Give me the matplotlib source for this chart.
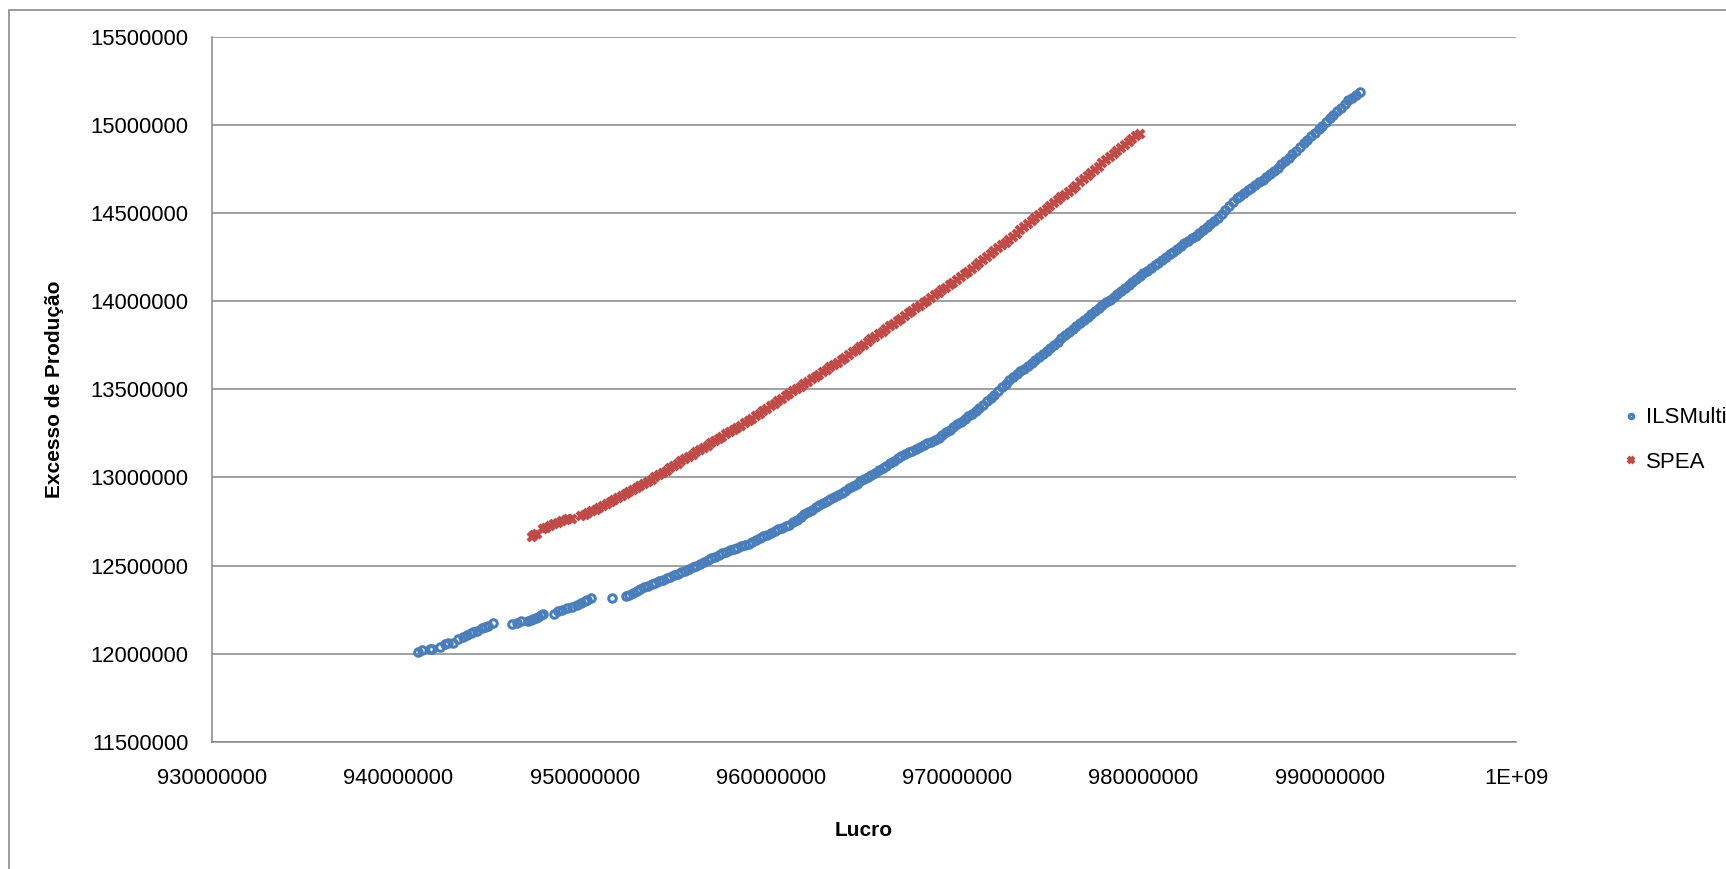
import matplotlib
matplotlib.use("Agg")
import matplotlib.pyplot as plt
from matplotlib.patches import Rectangle

# ---------------- data (x in millions, y in millions) ----------------
ils_x = [941.08, 941.26, 941.70, 941.83, 942.24, 942.51, 942.69, 942.96, 943.23, 943.45,
         943.67, 943.90, 944.00, 944.21, 944.48, 944.65, 944.83, 945.07, 946.09, 946.36,
         946.57, 946.95, 947.10, 947.24, 947.38, 947.51, 947.65, 947.78, 948.36, 948.59,
         948.80, 949.04, 949.30, 949.58, 949.80, 950.02, 950.15, 950.33, 951.45,
         952.2, 952.4, 952.6, 952.8,
         953.0, 953.2, 953.4, 953.6, 953.8, 954.0, 954.2, 954.4, 954.6, 954.8,
         955.0, 955.2, 955.4, 955.6, 955.8, 956.0, 956.2, 956.4, 956.6, 956.8,
         957.0, 957.2, 957.4, 957.6, 957.8, 958.0, 958.2, 958.4, 958.6, 958.8,
         959.0, 959.2, 959.4, 959.6, 959.8, 960.0, 960.2, 960.4, 960.6, 960.8,
         961.0, 961.2, 961.4, 961.6, 961.8, 962.0, 962.2, 962.4, 962.6, 962.8,
         963.0, 963.2, 963.4, 963.6, 963.8, 964.0, 964.2, 964.4, 964.6, 964.8,
         965.0, 965.2, 965.4, 965.6, 965.8, 966.0, 966.2, 966.4, 966.6, 966.8,
         967.0, 967.2, 967.4, 967.6, 967.8, 968.0, 968.2, 968.4, 968.6, 968.8,
         969.0, 969.2, 969.4, 969.6, 969.8, 970.0, 970.2, 970.4, 970.6, 970.8,
         971.0, 971.2, 971.4, 971.6, 971.8, 972.0, 972.2, 972.4, 972.6, 972.8,
         973.0, 973.2, 973.4, 973.6, 973.8, 974.0, 974.2, 974.4, 974.6, 974.8,
         975.0, 975.2, 975.4, 975.6, 975.8, 976.0, 976.2, 976.4, 976.6, 976.8,
         977.0, 977.2, 977.4, 977.6, 977.8, 978.0, 978.2, 978.4, 978.6, 978.8,
         979.0, 979.2, 979.4, 979.6, 979.8, 980.0, 980.2, 980.4, 980.6, 980.8,
         981.0, 981.2, 981.4, 981.6, 981.8, 982.0, 982.2, 982.4, 982.6, 982.8,
         983.0, 983.2, 983.4, 983.6, 983.8, 984.0, 984.2, 984.4, 984.6, 984.8,
         985.0, 985.2, 985.4, 985.6, 985.8, 986.0, 986.2, 986.4, 986.6, 986.8,
         987.0, 987.2, 987.4, 987.6, 987.8, 988.0, 988.2, 988.4, 988.6, 988.8,
         989.0, 989.2, 989.4, 989.6, 989.8, 990.0, 990.2, 990.4, 990.6, 990.8,
         991.0, 991.2, 991.4, 991.6]
ils_y = [12.007, 12.020, 12.024, 12.024, 12.039, 12.054, 12.062, 12.062, 12.081, 12.092,
         12.104, 12.115, 12.120, 12.130, 12.144, 12.150, 12.157, 12.172, 12.168, 12.175,
         12.185, 12.187, 12.191, 12.195, 12.203, 12.210, 12.218, 12.225, 12.225, 12.244,
         12.250, 12.258, 12.267, 12.276, 12.288, 12.300, 12.306, 12.313, 12.317,
         12.325, 12.335, 12.346, 12.356,
         12.367, 12.376, 12.385, 12.393, 12.402, 12.411, 12.419, 12.428, 12.436, 12.445,
         12.453, 12.462, 12.471, 12.480, 12.489, 12.498, 12.509, 12.519, 12.530, 12.540,
         12.551, 12.560, 12.569, 12.577, 12.586, 12.595, 12.602, 12.610, 12.617, 12.625,
         12.632, 12.643, 12.654, 12.665, 12.676, 12.687, 12.696, 12.705, 12.714, 12.723,
         12.732, 12.747, 12.761, 12.776, 12.790, 12.805, 12.818, 12.831, 12.843, 12.856,
         12.869, 12.880, 12.891, 12.903, 12.914, 12.925, 12.938, 12.951, 12.965, 12.978,
         12.991, 13.003, 13.015, 13.028, 13.040, 13.052, 13.066, 13.080, 13.094, 13.108,
         13.122, 13.132, 13.142, 13.151, 13.161, 13.171, 13.182, 13.193, 13.203, 13.214,
         13.225, 13.240, 13.256, 13.271, 13.287, 13.302, 13.317, 13.331, 13.346, 13.360,
         13.375, 13.394, 13.413, 13.432, 13.451, 13.470, 13.490, 13.511, 13.531, 13.551,
         13.571, 13.587, 13.603, 13.618, 13.634, 13.650, 13.667, 13.684, 13.700, 13.717,
         13.734, 13.752, 13.770, 13.789, 13.807, 13.825, 13.842, 13.859, 13.875, 13.892,
         13.909, 13.926, 13.943, 13.959, 13.976, 13.993, 14.010, 14.026, 14.043, 14.059,
         14.076, 14.092, 14.109, 14.125, 14.142, 14.158, 14.173, 14.188, 14.204, 14.219,
         14.234, 14.250, 14.266, 14.281, 14.297, 14.313, 14.328, 14.342, 14.357, 14.371,
         14.386, 14.403, 14.420, 14.436, 14.453, 14.470, 14.493, 14.516, 14.538, 14.561,
         14.584, 14.599, 14.614, 14.629, 14.644, 14.659, 14.675, 14.691, 14.706, 14.722,
         14.738, 14.757, 14.777, 14.796, 14.816, 14.835, 14.855, 14.876, 14.896, 14.916,
         14.936, 14.956, 14.977, 14.997, 15.018, 15.038, 15.058, 15.079, 15.099, 15.120,
         15.140, 15.156, 15.172, 15.188]

spea_x = [947.16, 947.30, 947.45, 947.78, 947.95, 948.15, 948.35, 948.59, 948.80, 949.00,
          949.13, 949.30, 949.8,
          950.0, 950.2, 950.4, 950.6, 950.8, 951.0, 951.2, 951.4, 951.6, 951.8,
          952.0, 952.2, 952.4, 952.6, 952.8, 953.0, 953.2, 953.4, 953.6, 953.8,
          954.0, 954.2, 954.4, 954.6, 954.8, 955.0, 955.2, 955.4, 955.6, 955.8,
          956.0, 956.2, 956.4, 956.6, 956.8, 957.0, 957.2, 957.4, 957.6, 957.8,
          958.0, 958.2, 958.4, 958.6, 958.8, 959.0, 959.2, 959.4, 959.6, 959.8,
          960.0, 960.2, 960.4, 960.6, 960.8, 961.0, 961.2, 961.4, 961.6, 961.8,
          962.0, 962.2, 962.4, 962.6, 962.8, 963.0, 963.2, 963.4, 963.6, 963.8,
          964.0, 964.2, 964.4, 964.6, 964.8, 965.0, 965.2, 965.4, 965.6, 965.8,
          966.0, 966.2, 966.4, 966.6, 966.8, 967.0, 967.2, 967.4, 967.6, 967.8,
          968.0, 968.2, 968.4, 968.6, 968.8, 969.0, 969.2, 969.4, 969.6, 969.8,
          970.0, 970.2, 970.4, 970.6, 970.8, 971.0, 971.2, 971.4, 971.6, 971.8,
          972.0, 972.2, 972.4, 972.6, 972.8, 973.0, 973.2, 973.4, 973.6, 973.8,
          974.0, 974.2, 974.4, 974.6, 974.8, 975.0, 975.2, 975.4, 975.6, 975.8,
          976.0, 976.2, 976.4, 976.6, 976.8, 977.0, 977.2, 977.4, 977.6, 977.8,
          978.0, 978.2, 978.4, 978.6, 978.8, 979.0, 979.2, 979.4, 979.6, 979.8]
spea_y = [12.664, 12.672, 12.680, 12.706, 12.712, 12.722, 12.733, 12.743, 12.750, 12.757,
          12.762, 12.766, 12.783,
          12.786, 12.797, 12.808, 12.818, 12.829, 12.840, 12.851, 12.862, 12.873, 12.884,
          12.895, 12.906, 12.918, 12.929, 12.941, 12.952, 12.964, 12.976, 12.988, 13.000,
          13.012, 13.025, 13.038, 13.052, 13.065, 13.078, 13.091, 13.104, 13.116, 13.129,
          13.142, 13.155, 13.168, 13.180, 13.193, 13.206, 13.219, 13.231, 13.244, 13.256,
          13.269, 13.282, 13.294, 13.307, 13.319, 13.332, 13.346, 13.361, 13.375, 13.390,
          13.404, 13.418, 13.432, 13.446, 13.460, 13.474, 13.488, 13.502, 13.515, 13.529,
          13.543, 13.557, 13.570, 13.584, 13.597, 13.611, 13.625, 13.639, 13.652, 13.666,
          13.680, 13.695, 13.710, 13.724, 13.739, 13.754, 13.769, 13.784, 13.798, 13.813,
          13.828, 13.843, 13.857, 13.872, 13.886, 13.901, 13.916, 13.931, 13.945, 13.960,
          13.975, 13.990, 14.004, 14.019, 14.033, 14.048, 14.063, 14.077, 14.092, 14.106,
          14.121, 14.137, 14.153, 14.168, 14.184, 14.200, 14.217, 14.233, 14.250, 14.266,
          14.283, 14.300, 14.317, 14.333, 14.350, 14.367, 14.384, 14.402, 14.419, 14.437,
          14.454, 14.471, 14.488, 14.505, 14.522, 14.539, 14.556, 14.572, 14.589, 14.605,
          14.622, 14.640, 14.657, 14.675, 14.692, 14.710, 14.728, 14.746, 14.764, 14.782,
          14.800, 14.817, 14.834, 14.852, 14.869, 14.886, 14.903, 14.919, 14.936, 14.952]

series_names = ["ILSMulti", "SPEA"]
x_ticks = [930000000, 940000000, 950000000, 960000000, 970000000, 980000000, 990000000, 1000000000]
x_tick_labels = ["930000000", "940000000", "950000000", "960000000", "970000000",
                 "980000000", "990000000", "1E+09"]
y_ticks = [11500000, 12000000, 12500000, 13000000, 13500000, 14000000, 14500000, 15000000, 15500000]
y_tick_labels = [str(v) for v in y_ticks]
x_label = "Lucro"
y_label = "Excesso de Produção"

MILLION = 1e6

# ---------------- figure ----------------
W, H = 1726, 869
fig = plt.figure(figsize=(W / 100, H / 100), dpi=100)
plt.rcParams['font.family'] = ['Liberation Sans', 'DejaVu Sans']

# outer chart-area frame (right/bottom edges run off the picture)
fig.patches.append(Rectangle((9 / W, -0.05), 1.1, 1 - 10 / H + 0.05, transform=fig.transFigure,
                             fill=False, edgecolor="#8c8c8c", linewidth=1.2, zorder=0))

ax = fig.add_axes([212 / W, 1 - 741.7 / H, (1516 - 212) / W, (741.7 - 37) / H])

blue = "#4A7EBB"
red = "#BE4B48"

ax.plot([v * MILLION for v in ils_x], [v * MILLION for v in ils_y], linestyle="none",
        marker="o", markersize=5.4, markerfacecolor="none", markeredgecolor=blue,
        markeredgewidth=2.2, label=series_names[0], zorder=3)
ax.plot([v * MILLION for v in spea_x], [v * MILLION for v in spea_y], linestyle="none",
        marker="x", markersize=6.2, markeredgecolor=red, color=red,
        markeredgewidth=3.0, label=series_names[1], zorder=3)

ax.set_xlim(930000000, 1000000000)
ax.set_ylim(11500000, 15500000)
ax.set_xticks(x_ticks)
ax.set_xticklabels(x_tick_labels)
ax.set_yticks(y_ticks)
ax.set_yticklabels(y_tick_labels)
ax.tick_params(axis="both", length=0, labelsize=15.8, colors="black")
ax.tick_params(axis="x", pad=19)
ax.tick_params(axis="y", pad=17)

ax.grid(axis="y", color="#868686", linewidth=1.1)
ax.set_axisbelow(True)
for s in ["top", "right"]:
    ax.spines[s].set_visible(False)
for s in ["left", "bottom"]:
    ax.spines[s].set_color("#868686")
    ax.spines[s].set_linewidth(1.1)

fig.text(864 / W, 1 - 831 / H, x_label, ha="center", va="center", fontsize=15, fontweight="bold")
fig.text(54 / W, 1 - 389 / H, y_label, ha="center", va="center", rotation=90,
         fontsize=15, fontweight="bold")

leg = fig.legend(loc="center left", bbox_to_anchor=(1614 / W, 1 - 440 / H), frameon=False,
                 fontsize=16, handlelength=0.5, handletextpad=0.45, labelspacing=1.05,
                 markerscale=0.6, borderpad=0)

fig.savefig("out.png", dpi=100)
